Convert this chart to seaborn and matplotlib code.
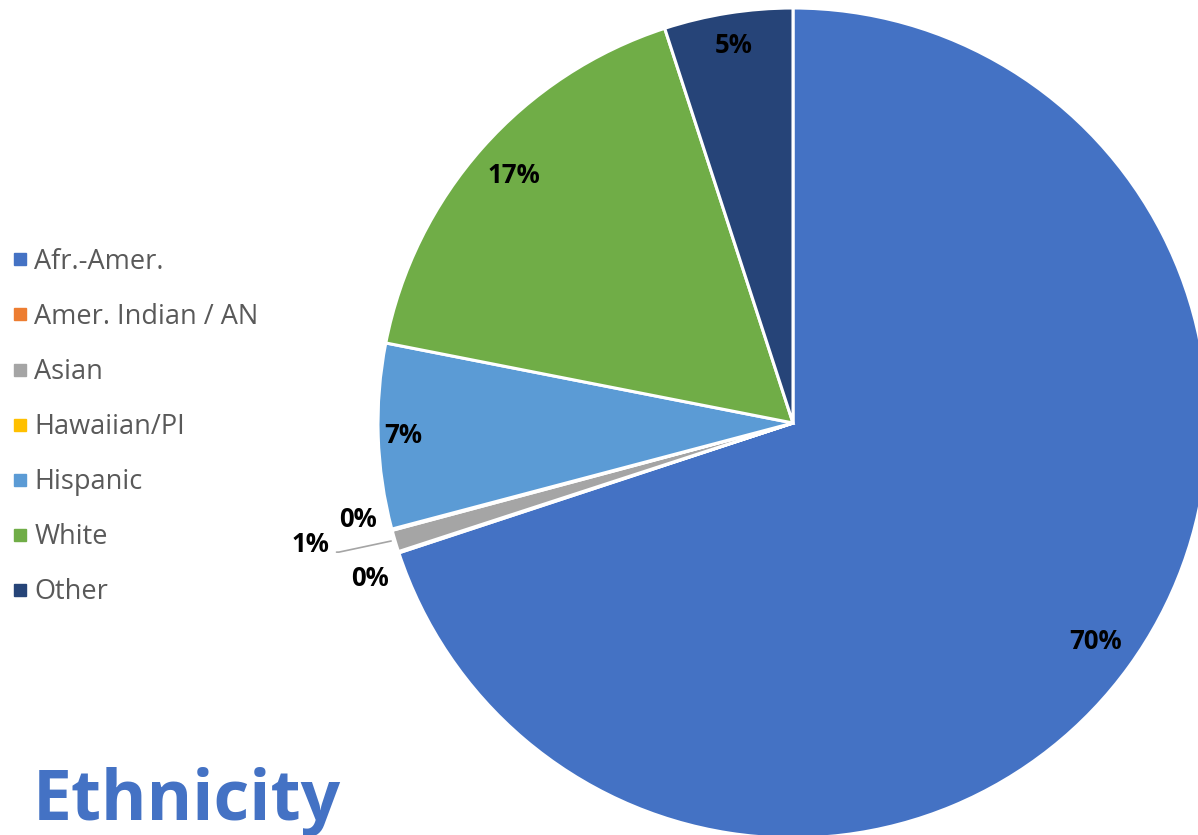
import matplotlib
matplotlib.use("agg")
import matplotlib.pyplot as plt
from matplotlib.lines import Line2D
import numpy as np
import seaborn as sns

# ethnicity shares (percent)
groups = ["Afr.-Amer.", "Amer. Indian / AN", "Asian", "Hawaiian/PI",
          "Hispanic", "White", "Other"]
shares = [69.9, 0.05, 0.85, 0.05, 7.2, 16.9, 5.0]
pct_labels = ["70%", "0%", "1%", "0%", "7%", "17%", "5%"]
colors = ["#4472C4", "#ED7D31", "#A5A5A5", "#FFC000",
          "#5B9BD5", "#70AD47", "#264478"]

sns.set_theme(style="white")
plt.rcParams["font.family"] = ["Open Sans", "DejaVu Sans"]

W, H = 1198, 835
fig = plt.figure(figsize=(W / 100, H / 100), dpi=100)
ax = fig.add_axes([0, 0, 1, 1])
cx, cy, R = 793, H - 423, 415

wedges, _ = ax.pie(shares, colors=colors, startangle=90, counterclock=False,
                   center=(cx, cy), radius=R,
                   wedgeprops=dict(edgecolor="white", linewidth=2.2))
ax.set_xlim(0, W)
ax.set_ylim(0, H)
ax.set_aspect("auto")
ax.axis("off")

# label placement: radial fraction for big slices, pixel offsets for the slivers
big_dist = {0: 0.9, 4: 0.94, 5: 0.9, 6: 0.92}
small_off = {1: (-29, -26), 2: (-81, -3), 3: (-34, 10)}
lab_kw = dict(fontsize=18.5, fontweight="bold", color="black",
              ha="center", va="center")
for i, (w, lab) in enumerate(zip(wedges, pct_labels)):
    mid = np.deg2rad((w.theta1 + w.theta2) / 2)
    if i in big_dist:
        d = big_dist[i] * R
        ax.text(cx + d * np.cos(mid), cy + d * np.sin(mid), lab, **lab_kw)
    else:
        px, py = cx + R * np.cos(mid), cy + R * np.sin(mid)
        arrow = None
        if i == 2:
            arrow = dict(arrowstyle="-", color="#A5A5A5", lw=1.2,
                         shrinkA=3, shrinkB=0, relpos=(1, 0.2),
                         connectionstyle="angle,angleA=0,angleB=12,rad=0")
        ax.annotate(lab, (px - 4 if i == 2 else px, py), xytext=small_off[i],
                    textcoords="offset pixels", arrowprops=arrow, **lab_kw)

handles = [Line2D([], [], marker="s", linestyle="", markersize=8.5,
                  markerfacecolor=c, markeredgecolor=c) for c in colors]
fig.legend(handles, groups, loc="upper left", bbox_to_anchor=(2 / W, 1 - 237 / H),
           frameon=False, fontsize=19.5, labelcolor="#595959", handlelength=0.55,
           handletextpad=0.25, labelspacing=1.0, borderaxespad=0)

fig.text(33 / W, 1 - 820 / H, "Ethnicity", fontsize=50, fontweight="bold",
         color="#4472C4", va="baseline", ha="left")

fig.savefig("out.png", dpi=100)
